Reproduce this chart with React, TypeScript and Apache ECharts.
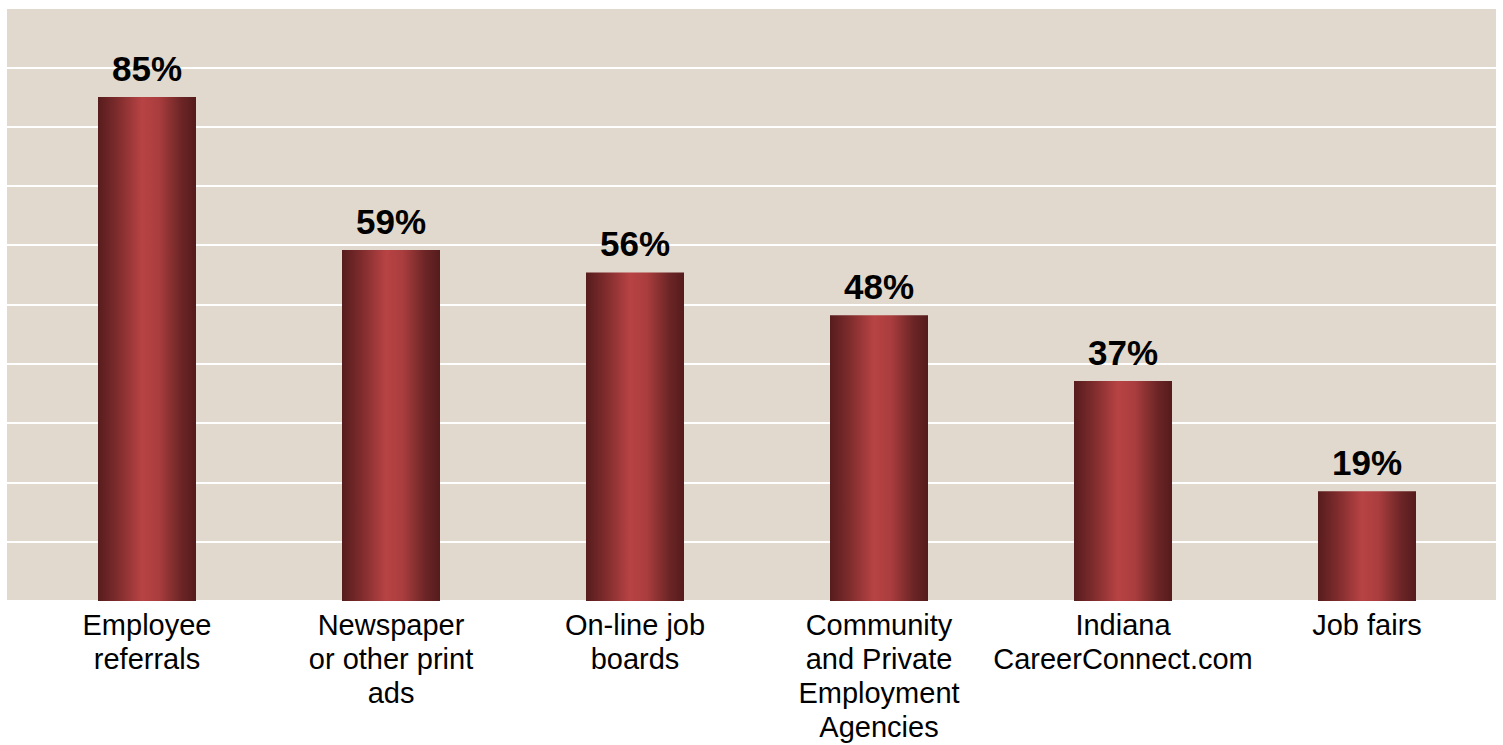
import React, { useEffect, useRef } from "react";
import * as echarts from "echarts";

const categories = [
  "Employee\nreferrals",
  "Newspaper\nor other print\nads",
  "On-line job\nboards",
  "Community\nand Private\nEmployment\nAgencies",
  "Indiana\nCareerConnect.com",
  "Job fairs",
];
// bar heights (percent)
const values = [85, 59.2, 55.4, 48.2, 37.1, 18.5];
// labels as printed above the bars
const valueLabels = ["85%", "59%", "56%", "48%", "37%", "19%"];
const yTicks = [0, 10, 20, 30, 40, 50, 60, 70, 80, 90, 100];

const FONT = "'Liberation Sans', Arial, Helvetica, sans-serif";

export default function App() {
  const ref = useRef<HTMLDivElement>(null);
  useEffect(() => {
    if (!ref.current) return;
    const chart = echarts.init(ref.current, null, { renderer: "svg" });
    const barGradient = new echarts.graphic.LinearGradient(0, 0, 1, 0, [
      { offset: 0, color: "#571c1d" },
      { offset: 0.18, color: "#7a2a2b" },
      { offset: 0.45, color: "#b84344" },
      { offset: 0.62, color: "#aa3d3e" },
      { offset: 0.85, color: "#6c2526" },
      { offset: 1, color: "#551b1c" },
    ]);
    chart.setOption({
      animation: false,
      grid: [
        {
          left: 7,
          right: 7,
          top: 8,
          height: 593,
          show: true,
          backgroundColor: "#e1d9cd",
          borderWidth: 0,
          containLabel: false,
          outerBoundsMode: "none",
        },
        {
          left: 25,
          width: 1464,
          top: 8,
          height: 593,
          containLabel: false,
          outerBoundsMode: "none",
        },
      ],
      xAxis: [
        { gridIndex: 0, type: "value", min: 0, max: 1, show: false },
        {
          gridIndex: 1,
          type: "category",
          data: categories,
          axisLine: { show: false },
          axisTick: { show: false },
          axisLabel: {
            interval: 0,
            fontSize: 29,
            lineHeight: 34,
            color: "#000",
            fontFamily: FONT,
            margin: 7,
          },
        },
      ],
      yAxis: [
        {
          gridIndex: 0,
          type: "value",
          min: yTicks[0],
          max: yTicks[yTicks.length - 1],
          interval: yTicks[1] - yTicks[0],
          axisLine: { show: false },
          axisTick: { show: false },
          axisLabel: { show: false },
          splitLine: { show: true, lineStyle: { color: "#ffffff", width: 2 } },
        },
        {
          gridIndex: 1,
          type: "value",
          min: yTicks[0],
          max: yTicks[yTicks.length - 1],
          show: false,
          splitLine: { show: false },
        },
      ],
      series: [
        {
          type: "bar",
          xAxisIndex: 1,
          yAxisIndex: 1,
          data: values,
          barWidth: 98,
          itemStyle: { color: barGradient },
          label: {
            show: true,
            position: "top",
            distance: 11,
            formatter: (p: any) => valueLabels[p.dataIndex],
            fontSize: 35,
            fontWeight: "bold",
            color: "#000",
            fontFamily: FONT,
          },
        },
      ],
    });
    return () => chart.dispose();
  }, []);
  return (
    <div
      ref={ref}
      style={{ width: 1503, height: 745, position: "absolute", left: 0, top: 0 }}
    />
  );
}
